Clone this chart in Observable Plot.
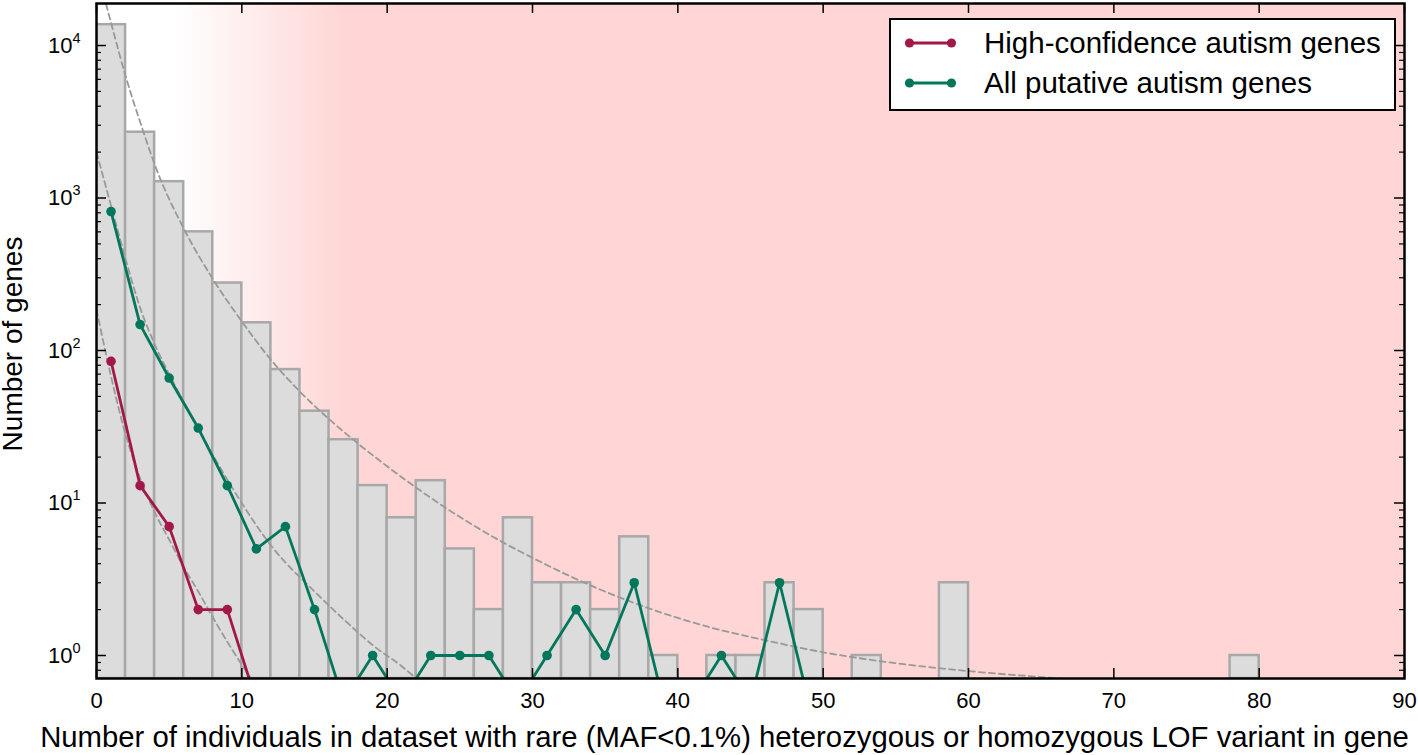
<!DOCTYPE html>
<html>
<head>
<meta charset="utf-8">
<script src="https://cdn.jsdelivr.net/npm/d3@7"></script>
<script src="https://cdn.jsdelivr.net/npm/@observablehq/plot@0.6"></script>
<style>
  html, body { margin: 0; padding: 0; background: #fff; }
  body { font-family: "Liberation Sans", Arial, sans-serif; }
  #wrap { position: relative; width: 1418px; height: 755px; }
  #legend { position: absolute; left: 889px; top: 18px; width: 507px; height: 93px;
            box-sizing: border-box; border: 2.5px solid #000; background: #fff; }
  #legend .sw { position: absolute; left: 12px; }
  #legend .lab { position: absolute; left: 93px; font-size: 29.5px; line-height: 30px; color: #000; white-space: nowrap; }
</style>
</head>
<body>
<div id="wrap"></div>
<script>
// ---------- data ----------
const xDomain = [0, 90];
const yDomain = [0.7066, 18860];

// histogram (bin start, width 2) : number of genes
const binStarts = [0, 2, 4, 6, 8, 10, 12, 14, 16, 18, 20, 22, 24, 26, 28, 30, 32, 34, 36, 38, 42, 44, 46, 48, 52, 58, 78];
const binCounts = [13700, 2700, 1280, 600, 277, 152, 75, 40, 26, 13, 8, 14, 5, 2, 8, 3, 3, 2, 6, 1, 1, 1, 3, 2, 1, 3, 1];
const binWidth = 2;

// autism gene counts at bin centres
const lineX = [1, 3, 5, 7, 9, 11, 13, 15, 17, 19, 21, 23, 25, 27, 29, 31, 33, 35, 37, 39, 41, 43, 45, 47, 49];
const highConfidence = [85, 13, 7, 2, 2, 0];
const allPutative = [815, 148, 66, 31, 13, 5, 7, 2, 0, 1, 0, 1, 1, 1, 0, 1, 2, 1, 3, 0, 0, 1, 0, 3, 0];
const zeroDrawnAt = 0.5; // zero counts are drawn below the axis floor

const seriesNames = ["High-confidence autism genes", "All putative autism genes"];
const seriesColors = ["#A3184A", "#00775B"];

// dashed fitted curves
const fitAllX = [0.3, 1, 2, 3, 4, 6, 8, 10, 12, 14, 16, 18, 20, 22, 24, 26, 28, 30, 34, 38, 42, 46, 50, 55, 60, 66, 70];
const fitAllY = [25100, 14100, 6310, 3160, 1660, 631, 295, 155, 87, 53.7, 35.5, 24.5, 17.4, 12.6, 9.33, 7.08, 5.5, 4.37, 2.88, 2.04, 1.55, 1.26, 1.05, 0.89, 0.79, 0.71, 0.66];
const fitPutX = [0, 1, 2, 3, 4, 5.3, 7.1, 9.4, 12.1, 15, 17.2, 19, 21, 22, 23];
const fitPutY = [1995, 891, 398, 191, 110, 61.7, 29.5, 12.3, 5.13, 2.63, 1.66, 1.17, 0.85, 0.71, 0.6];
const fitHighX = [0, 1, 2, 3, 4, 5, 6, 7, 8, 9, 10, 11];
const fitHighY = [186, 67.6, 28.2, 14.5, 8.7, 5.75, 3.8, 2.63, 1.78, 1.23, 0.87, 0.63];

// background shading: white → pink between these x values
const shadeFrom = 5.4, shadeTo = 17.2;
const shadeColor = "#FFD5D5";

// ticks
const xTicks = [0, 10, 20, 30, 40, 50, 60, 70, 80, 90];
const yMajor = [1, 10, 100, 1000, 10000];
const yMinor = [];
for (let k = -1; k <= 4; k++) for (let m = 2; m <= 9; m++) {
  const v = m * Math.pow(10, k);
  if (v > yDomain[0] && v < yDomain[1]) yMinor.push(v);
}

const xLabel = "Number of individuals in dataset with rare (MAF<0.1%) heterozygous or homozygous LOF variant in gene";
const yLabel = "Number of genes";

// ---------- tables ----------
const bars = binStarts.map((s, i) => ({x1: s, x2: s + binWidth, y: binCounts[i]}));
const mkSeries = (vals, name) => vals.map((v, i) => ({x: lineX[i], y: v === 0 ? zeroDrawnAt : v, name}));
const hcData = mkSeries(highConfidence, seriesNames[0]);
const apData = mkSeries(allPutative, seriesNames[1]);
const fits = [
  fitAllX.map((x, i) => ({x, y: fitAllY[i]})),
  fitPutX.map((x, i) => ({x, y: fitPutY[i]})),
  fitHighX.map((x, i) => ({x, y: fitHighY[i]}))
];
const bg = [{x1: xDomain[0], x2: xDomain[1], y1: yDomain[0], y2: yDomain[1]}];

const W = 1418, H = 755, mT = 3, mR = 14, mB = 77, mL = 96;
const innerW = W - mL - mR, innerH = H - mT - mB;
const majorLen = 10, minorLen = 5;

const fitStyle = {x: "x", y: "y", stroke: "#999999", strokeWidth: 1.8, strokeDasharray: "6,4", curve: "monotone-x", clip: true};

const svg = Plot.plot({
  width: W, height: H,
  marginTop: mT, marginRight: mR, marginBottom: mB, marginLeft: mL,
  style: {fontFamily: "'Liberation Sans', Arial, sans-serif", background: "#fff", overflow: "visible"},
  x: {domain: xDomain, label: null},
  y: {type: "log", domain: yDomain, label: null},
  marks: [
    Plot.rect(bg, {x1: "x1", x2: "x2", y1: "y1", y2: "y2", fill: "url(#shadeGrad)"}),
    Plot.rect(bars, {x1: "x1", x2: "x2", y1: () => yDomain[0], y2: "y", fill: "#DCDCDC", stroke: "#A8A8A8", strokeWidth: 2.5, clip: true}),
    ...fits.map(f => Plot.line(f, fitStyle)),
    Plot.line(hcData, {x: "x", y: "y", stroke: seriesColors[0], strokeWidth: 2.8, clip: true}),
    Plot.dot(hcData, {x: "x", y: "y", fill: seriesColors[0], r: 4.8, clip: true}),
    Plot.line(apData, {x: "x", y: "y", stroke: seriesColors[1], strokeWidth: 2.8, clip: true}),
    Plot.dot(apData, {x: "x", y: "y", fill: seriesColors[1], r: 4.8, clip: true}),
    // inward ticks
    Plot.tickX(xTicks, {x: d => d, insetTop: innerH - majorLen, stroke: "#000", strokeWidth: 1.5}),
    Plot.tickX(xTicks, {x: d => d, insetBottom: innerH - majorLen, stroke: "#000", strokeWidth: 1.5}),
    Plot.tickY(yMajor, {y: d => d, insetRight: innerW - majorLen, stroke: "#000", strokeWidth: 1.5}),
    Plot.tickY(yMajor, {y: d => d, insetLeft: innerW - majorLen, stroke: "#000", strokeWidth: 1.5}),
    Plot.tickY(yMinor, {y: d => d, insetRight: innerW - minorLen, stroke: "#000", strokeWidth: 1.2}),
    Plot.tickY(yMinor, {y: d => d, insetLeft: innerW - minorLen, stroke: "#000", strokeWidth: 1.2}),
    Plot.axisX({ticks: xTicks, tickSize: 0, tickPadding: 14, fontSize: 22, tickFormat: d => String(d)}),
    Plot.axisY({ticks: yMajor, tickSize: 0, tickPadding: 16, fontSize: 22, tickFormat: d => String(Math.round(Math.log10(d)))}),
    Plot.frame({stroke: "#000", strokeWidth: 2.5}),
    Plot.text([xLabel], {text: d => d, frameAnchor: "bottom", textAnchor: "middle", dx: -26, dy: 59, fontSize: 29.3, lineAnchor: "middle", fill: "#000"}),
    Plot.text([yLabel], {text: d => d, frameAnchor: "left", textAnchor: "middle", rotate: -90, dx: -83, dy: 3, fontSize: 28, lineAnchor: "middle", fill: "#000"})
  ]
});

// gradient definition for the shaded background
const defs = d3.select(svg).insert("defs", ":first-child");
const grad = defs.append("linearGradient").attr("id", "shadeGrad")
  .attr("x1", "0").attr("x2", "1").attr("y1", "0").attr("y2", "0");
const span = xDomain[1] - xDomain[0];
grad.append("stop").attr("offset", (shadeFrom - xDomain[0]) / span).attr("stop-color", "#fff");
grad.append("stop").attr("offset", (shadeTo - xDomain[0]) / span).attr("stop-color", shadeColor);
grad.append("stop").attr("offset", 1).attr("stop-color", shadeColor);

// superscript exponents on y tick labels
d3.select(svg).selectAll('g[aria-label="y-axis tick label"] text').each(function() {
  const exp = this.textContent;
  const t = d3.select(this);
  t.text("");
  t.append("tspan").text("10");
  t.append("tspan").attr("dy", -10).attr("font-size", 14.5).text(exp);
});

const wrap = document.getElementById("wrap");
wrap.appendChild(svg);

// legend
const legend = d3.select(wrap).append("div").attr("id", "legend");
const rowCenters = [22.5, 62.5];
seriesNames.forEach((name, i) => {
  const s = legend.append("svg").attr("class", "sw").attr("width", 56).attr("height", 14)
    .style("top", (rowCenters[i] - 7) + "px");
  s.append("line").attr("x1", 6.5).attr("x2", 48.5).attr("y1", 7).attr("y2", 7)
    .attr("stroke", seriesColors[i]).attr("stroke-width", 2.8);
  s.append("circle").attr("cx", 6.5).attr("cy", 7).attr("r", 4.6).attr("fill", seriesColors[i]);
  s.append("circle").attr("cx", 48.5).attr("cy", 7).attr("r", 4.6).attr("fill", seriesColors[i]);
  legend.append("div").attr("class", "lab").style("top", (rowCenters[i] - 15) + "px").text(name);
});
</script>
</body>
</html>
